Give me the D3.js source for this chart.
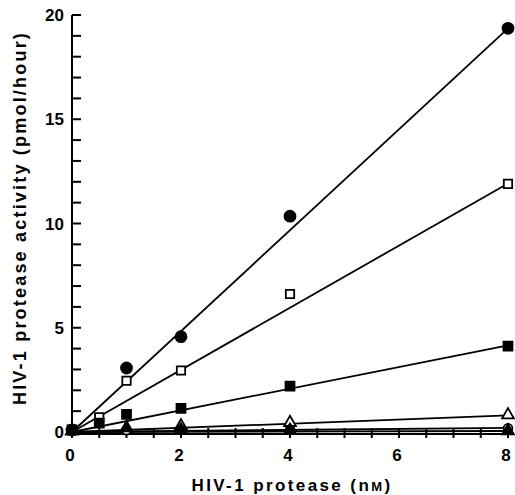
<!DOCTYPE html>
<html>
<head>
<meta charset="utf-8">
<script src="https://cdn.jsdelivr.net/npm/d3@7"></script>
<style>
  body { margin: 0; background: #fff; }
  text { font-family: "Liberation Sans", Arial, sans-serif; fill: #000; }
</style>
</head>
<body>
<svg id="chart" width="515" height="495"></svg>
<script>
// protease concentration (nM)
const conc = [0, 0.5, 1, 2, 4, 8];

// activity (pmol/hour) for each series
const filledCircle   = [0.1, null, 3.07, 4.57, 10.35, 19.36];
const openSquare     = [0.1, 0.7, 2.46, 2.95, 6.62, 11.9];
const filledSquare   = [0.1, 0.42, 0.85, 1.13, 2.2, 4.12];
const openTriangle   = [0.05, null, 0.15, 0.29, 0.45, 0.82];
const openCircle     = [0.05, null, 0.08, 0.1, 0.12, 0.18];
const filledTriangle = [0.05, null, 0.2, 0.1, 0.08, 0.05];

// slopes of the fitted lines through origin
const fitSlopes = [2.42, 1.49, 0.52, 0.1, 0.025, 0.006];

const xTicks = [0, 2, 4, 6, 8];
const yTicks = [0, 5, 10, 15, 20];
const yMinor = d3.range(0, 21, 1);
const xMinor = d3.range(0, 8.01, 0.5);

const svg = d3.select("#chart");

const x = d3.scaleLinear().domain([0, 8]).range([72, 508]);
const y = d3.scaleLinear().domain([0, 20]).range([432, 15]);

/* axis lines */
svg.append("line")
    .attr("x1", x(0)).attr("x2", x(0))
    .attr("y1", y(0)).attr("y2", y(20))
    .attr("stroke", "#000").attr("stroke-width", 2);

svg.append("line")
    .attr("x1", x(0)).attr("x2", x(8))
    .attr("y1", y(0) + 2).attr("y2", y(0) + 2)
    .attr("stroke", "#000").attr("stroke-width", 2.2);

/* ticks, pointing into the plot */
svg.selectAll(".ytick")
    .data(yMinor)
    .enter().append("line")
    .attr("class", "ytick")
    .attr("x1", x(0)).attr("x2", x(0) + 9)
    .attr("y1", d => y(d)).attr("y2", d => y(d))
    .attr("stroke", "#000").attr("stroke-width", 2);

svg.selectAll(".xtick")
    .data(xMinor)
    .enter().append("line")
    .attr("class", "xtick")
    .attr("x1", d => x(d)).attr("x2", d => x(d))
    .attr("y1", y(0) - 4).attr("y2", y(0) + 6)
    .attr("stroke", "#000").attr("stroke-width", 2);

svg.selectAll(".ylab")
    .data(yTicks)
    .enter().append("text")
    .attr("class", "ylab")
    .attr("x", 64)
    .attr("y", d => y(d) + 6)
    .attr("text-anchor", "end")
    .attr("font-size", 17)
    .attr("font-weight", "bold")
    .text(d => d);

svg.selectAll(".xlab")
    .data(xTicks)
    .enter().append("text")
    .attr("class", "xlab")
    .attr("x", d => x(d) - 2)
    .attr("y", 461)
    .attr("text-anchor", "middle")
    .attr("font-size", 17)
    .attr("font-weight", "bold")
    .text(d => d);

/* axis titles */
let xt = svg.append("text")
    .attr("x", 292)
    .attr("y", 491)
    .attr("text-anchor", "middle")
    .attr("font-size", 17)
    .attr("font-weight", "bold")
    .attr("letter-spacing", 2.4)
    .text("HIV-1 protease (n");
xt.append("tspan").attr("font-size", 13).text("M");
xt.append("tspan").text(")");

svg.append("text")
    .attr("transform", "translate(26,218) rotate(-90)")
    .attr("text-anchor", "middle")
    .attr("font-size", 18)
    .attr("font-weight", "bold")
    .attr("letter-spacing", 2.2)
    .text("HIV-1 protease activity (pmol/hour)");

/* fitted lines */
svg.selectAll(".fit")
    .data(fitSlopes)
    .enter().append("line")
    .attr("class", "fit")
    .attr("x1", x(0)).attr("y1", y(0))
    .attr("x2", x(8)).attr("y2", d => y(d * 8))
    .attr("stroke", "#000")
    .attr("stroke-width", 1.8);

/* symbols */
const series = [
    { vals: filledCircle,   shape: d3.symbolCircle,   size: 95,  fill: "#000" },
    { vals: openSquare,     shape: d3.symbolSquare,   size: 70,  fill: "#fff" },
    { vals: filledSquare,   shape: d3.symbolSquare,   size: 80,  fill: "#000" },
    { vals: openTriangle,   shape: d3.symbolTriangle, size: 60,  fill: "#fff" },
    { vals: openCircle,     shape: d3.symbolCircle,   size: 60,  fill: "#fff" },
    { vals: filledTriangle, shape: d3.symbolTriangle, size: 60,  fill: "#000" }
];

series.forEach(s => {
    const pts = conc.map((c, i) => ({ c: c, v: s.vals[i] })).filter(p => p.v !== null);
    svg.selectAll(null)
        .data(pts)
        .enter().append("path")
        .attr("d", d3.symbol().type(s.shape).size(s.size))
        .attr("transform", d => `translate(${x(d.c)},${y(d.v)})`)
        .attr("fill", s.fill)
        .attr("stroke", "#000")
        .attr("stroke-width", 1.8);
});
</script>
</body>
</html>
